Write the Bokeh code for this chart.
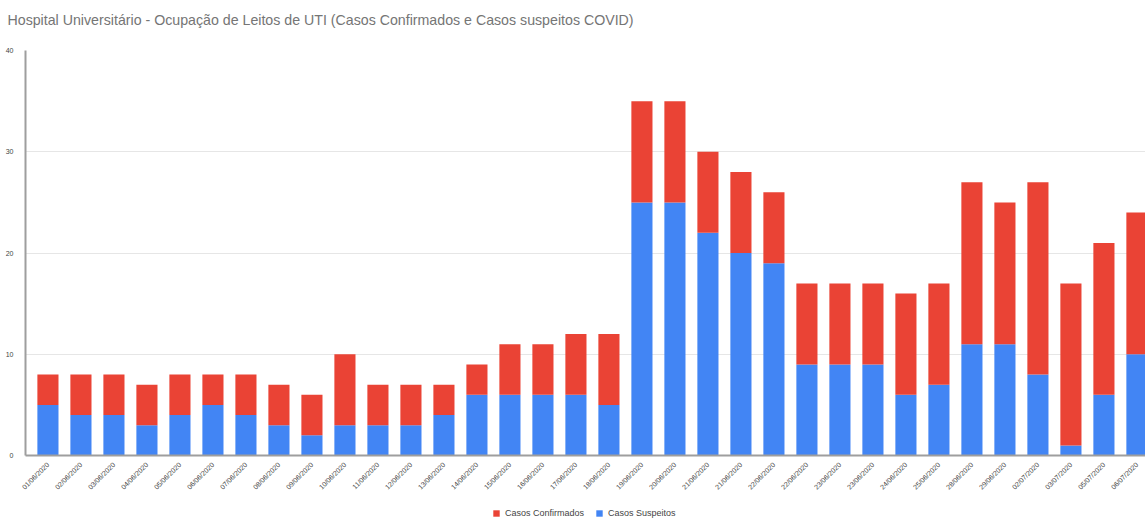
import math
from bokeh.plotting import figure
from bokeh.layouts import column
from bokeh.models import ColumnDataSource, Range1d, FixedTicker, Legend, LegendItem
from bokeh.embed import file_html
from bokeh.resources import INLINE

TITLE = "Hospital Universitário - Ocupação de Leitos de UTI (Casos Confirmados e Casos suspeitos COVID)"

dates = ["01/06/2020", "02/06/2020", "03/06/2020", "04/06/2020", "05/06/2020",
         "06/06/2020", "07/06/2020", "08/06/2020", "09/06/2020", "10/06/2020",
         "11/06/2020", "12/06/2020", "13/06/2020", "14/06/2020", "15/06/2020",
         "16/06/2020", "17/06/2020", "18/06/2020", "19/06/2020", "20/06/2020",
         "21/06/2020", "21/06/2020", "22/06/2020", "22/06/2020", "23/06/2020",
         "23/06/2020", "24/06/2020", "25/06/2020", "28/06/2020", "29/06/2020",
         "02/07/2020", "03/07/2020", "05/07/2020", "06/07/2020"]

casos_suspeitos = [5, 4, 4, 3, 4, 5, 4, 3, 2, 3,
                   3, 3, 4, 6, 6, 6, 6, 5, 25, 25,
                   22, 20, 19, 9, 9, 9, 6, 7, 11, 11,
                   8, 1, 6, 10]

casos_confirmados = [3, 4, 4, 4, 4, 3, 4, 4, 4, 7,
                     4, 4, 3, 3, 5, 5, 6, 7, 10, 10,
                     8, 8, 7, 8, 8, 8, 10, 10, 16, 14,
                     19, 16, 15, 14]

series_names = ["Casos Confirmados", "Casos Suspeitos"]
y_ticks = [0, 10, 20, 30, 40]

RED = "#EA4335"
BLUE = "#4285F4"

xs = list(range(len(dates)))
source = ColumnDataSource(dict(x=xs, suspeitos=casos_suspeitos, confirmados=casos_confirmados))

# title strip
tf = figure(width=1145, height=44, output_backend="svg", toolbar_location=None,
            x_range=Range1d(0, 1), y_range=Range1d(0, 1), title=TITLE,
            x_axis_location=None, y_axis_location=None,
            min_border_left=0, min_border_right=0, min_border_top=0, min_border_bottom=0)
tf.grid.visible = False
tf.outline_line_color = None
tf.title.text_font = "Liberation Sans"
tf.title.text_font_size = "14.2px"
tf.title.text_font_style = "normal"
tf.title.text_color = "#757575"
tf.title.offset = -18
tf.title.standoff = 18

# main chart
p = figure(width=1145, height=452, output_backend="svg", toolbar_location=None,
           x_range=Range1d(-0.68, len(dates) - 1 + 0.26),
           y_range=Range1d(0, 40),
           min_border_left=25, min_border_right=0, min_border_top=6, min_border_bottom=40)

p.vbar_stack(["suspeitos", "confirmados"], x="x", width=0.64, source=source,
             color=[BLUE, RED], line_color=None)

p.outline_line_color = None
p.xgrid.grid_line_color = None
p.ygrid.grid_line_color = "#e6e6e6"
p.ygrid.grid_line_width = 1

p.yaxis.ticker = FixedTicker(ticks=y_ticks)
p.yaxis.axis_line_color = "#9e9e9e"
p.yaxis.axis_line_width = 2
p.yaxis.major_tick_line_color = None
p.yaxis.major_tick_out = 0
p.yaxis.minor_tick_line_color = None
p.yaxis.major_label_text_font = "Liberation Sans"
p.yaxis.major_label_text_font_size = "7px"
p.yaxis.major_label_text_color = "#444444"
p.yaxis.major_label_standoff = 12

p.xaxis.ticker = FixedTicker(ticks=xs)
p.xaxis.major_label_overrides = {i: d for i, d in enumerate(dates)}
p.xaxis.axis_line_color = "#9e9e9e"
p.xaxis.axis_line_width = 2
p.xaxis.major_tick_line_color = None
p.xaxis.major_tick_out = 0
p.xaxis.minor_tick_line_color = None
p.xaxis.major_label_orientation = math.pi / 4
p.xaxis.major_label_text_font = "Liberation Sans"
p.xaxis.major_label_text_font_size = "7px"
p.xaxis.major_label_text_color = "#444444"
p.xaxis.major_label_standoff = 8

# legend strip below the chart (its swatch renderers lie outside the visible ranges)
lf = figure(width=1145, height=22, output_backend="svg", toolbar_location=None,
            x_range=Range1d(0, 1), y_range=Range1d(0, 1),
            x_axis_location=None, y_axis_location=None,
            min_border_left=0, min_border_right=0, min_border_top=0, min_border_bottom=0)
lf.grid.visible = False
lf.outline_line_color = None
r_conf = lf.vbar(x=[-5], bottom=[-6], top=[-5], width=0.5, fill_color=RED, line_color=None)
r_sus = lf.vbar(x=[-5], bottom=[-6], top=[-5], width=0.5, fill_color=BLUE, line_color=None)

legend = Legend(items=[LegendItem(label=series_names[0], renderers=[r_conf]),
                       LegendItem(label=series_names[1], renderers=[r_sus])],
                orientation="horizontal", location=(467, 0),
                label_text_font="Liberation Sans", label_text_font_size="9px",
                label_text_color="#444444", glyph_width=8, glyph_height=8,
                label_height=10, label_standoff=5, spacing=11, padding=0, margin=0,
                border_line_color=None, background_fill_alpha=0)
lf.add_layout(legend, "center")

layout = column(tf, p, lf, spacing=0)
open("out.html", "w").write(file_html(layout, INLINE))
